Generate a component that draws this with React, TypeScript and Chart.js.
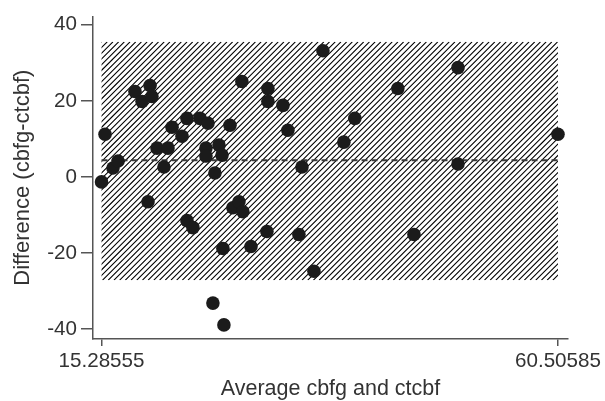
import React, { useEffect, useRef } from "react";
import { Chart, registerables } from "chart.js";

Chart.register(...registerables);

// Average of the two methods (x) and their difference (y)
const averages: number[] = [
  15.28555, 15.63, 16.42, 16.92, 18.6, 20.09, 19.3, 20.28, 19.89, 20.78,
  21.87, 21.47, 22.27, 23.26, 23.75, 25.04, 25.83, 28.01, 25.63, 25.63,
  26.92, 27.22, 26.52, 23.75, 24.34, 27.31, 26.32, 27.41, 28.3, 28.9,
  29.29, 29.19, 30.09, 31.67, 31.77, 31.77, 33.26, 33.75, 35.14, 34.84,
  36.33, 37.22, 39.29, 40.38, 44.64, 46.24, 50.6, 50.6, 60.50585,
];
const differences: number[] = [
  -1.31, 11.23, 2.35, 4.18, 22.45, 24.02, 19.84, 21.15, -6.53, 7.57,
  7.57, 2.61, 13.05, 10.7, 15.4, 15.4, 14.1, 13.58, 7.57, 5.48,
  8.36, 5.74, 1.04, -11.49, -13.32, -18.8, -33.16, -38.9, -8.09, -6.53,
  -9.14, 25.07, -18.28, -14.36, 23.24, 19.84, 18.8, 12.27, 2.61, -15.14,
  -24.8, 33.16, 9.14, 15.4, 23.24, -15.14, 28.72, 3.39, 11.23,
];

const xTickValues: number[] = [15.28555, 60.50585];
const xTickLabels: string[] = ["15.28555", "60.50585"];
const yTickValues: number[] = [-40, -20, 0, 20, 40];

const meanDifference = 4.36;
const upperLimit = 35.5;
const lowerLimit = -27.15;

const xTitle = "Average cbfg and ctcbf";
const yTitle = "Difference (cbfg-ctcbf)";

const FONT = "'Liberation Sans', Arial, Helvetica, sans-serif";

const agreementPlugin = {
  id: "agreementBand",
  beforeDatasetsDraw(chart: any) {
    const { ctx, scales } = chart;
    const x = scales.x;
    const y = scales.y;
    const left = x.getPixelForValue(xTickValues[0]);
    const right = x.getPixelForValue(xTickValues[1]);
    const top = y.getPixelForValue(upperLimit);
    const bottom = y.getPixelForValue(lowerLimit);
    const h = bottom - top;
    ctx.save();
    ctx.beginPath();
    ctx.rect(left, top, right - left, h);
    ctx.clip();
    ctx.beginPath();
    ctx.strokeStyle = "#000";
    ctx.lineWidth = 1.1;
    const spacing = 5.7;
    for (let sx = left - h; sx < right + spacing; sx += spacing) {
      ctx.moveTo(sx, bottom);
      ctx.lineTo(sx + h, top);
    }
    ctx.stroke();
    ctx.restore();

    const my = y.getPixelForValue(meanDifference);
    ctx.save();
    ctx.beginPath();
    ctx.setLineDash([6, 4]);
    ctx.strokeStyle = "#3a3a3a";
    ctx.lineWidth = 2;
    ctx.moveTo(left, my);
    ctx.lineTo(right, my);
    ctx.stroke();
    ctx.restore();
  },
};

export default function App() {
  const canvasRef = useRef<HTMLCanvasElement | null>(null);

  useEffect(() => {
    if (!canvasRef.current) return;
    const chart = new Chart(canvasRef.current, {
      type: "scatter",
      data: {
        datasets: [
          {
            data: averages.map((a, i) => ({ x: a, y: differences[i] })),
            backgroundColor: "#1b1b1b",
            borderColor: "#1b1b1b",
            borderWidth: 0,
            pointRadius: 6.8,
          },
        ],
      },
      options: {
        responsive: false,
        animation: false,
        events: [],
        layout: { padding: { top: 14, right: 37, left: 0, bottom: 0 } },
        plugins: { legend: { display: false }, tooltip: { enabled: false } },
        scales: {
          x: {
            type: "linear",
            min: 14.44,
            max: 61.5,
            afterBuildTicks: (scale: any) => {
              scale.ticks = xTickValues.map((v) => ({ value: v }));
            },
            afterFit: (scale: any) => {
              scale.height = 62;
            },
            grid: {
              display: true,
              drawOnChartArea: false,
              drawTicks: true,
              tickLength: 7,
              color: "#555",
              lineWidth: 1.5,
            },
            border: { display: true, color: "#555", width: 1.5 },
            ticks: {
              autoSkip: false,
              maxRotation: 0,
              padding: 3,
              color: "#333",
              font: { family: FONT, size: 20.6 },
              callback: (value: any) => {
                const i = xTickValues.indexOf(Number(value));
                return i >= 0 ? xTickLabels[i] : "";
              },
            },
            title: {
              display: true,
              text: xTitle,
              color: "#333",
              font: { family: FONT, size: 21.5, lineHeight: 1 },
              padding: { top: 0, bottom: 1 },
            },
          },
          y: {
            type: "linear",
            min: -42.6,
            max: 42.2,
            afterBuildTicks: (scale: any) => {
              scale.ticks = yTickValues.map((v) => ({ value: v }));
            },
            afterFit: (scale: any) => {
              scale.width = 93;
            },
            grid: {
              display: true,
              drawOnChartArea: false,
              drawTicks: true,
              tickLength: 12,
              color: "#555",
              lineWidth: 1.5,
            },
            border: { display: true, color: "#555", width: 1.5 },
            ticks: {
              autoSkip: false,
              padding: 4,
              color: "#333",
              font: { family: FONT, size: 20.6 },
            },
            title: {
              display: true,
              text: yTitle,
              color: "#333",
              font: { family: FONT, size: 22, lineHeight: 1 },
              padding: { top: 12, bottom: 0 },
            },
          },
        },
      },
      plugins: [agreementPlugin],
    } as any);
    return () => chart.destroy();
  }, []);

  return (
    <div style={{ position: "fixed", left: 0, top: 0, width: 605, height: 401, background: "#fff" }}>
      <canvas ref={canvasRef} width={605} height={401} style={{ width: 605, height: 401 }} />
    </div>
  );
}
